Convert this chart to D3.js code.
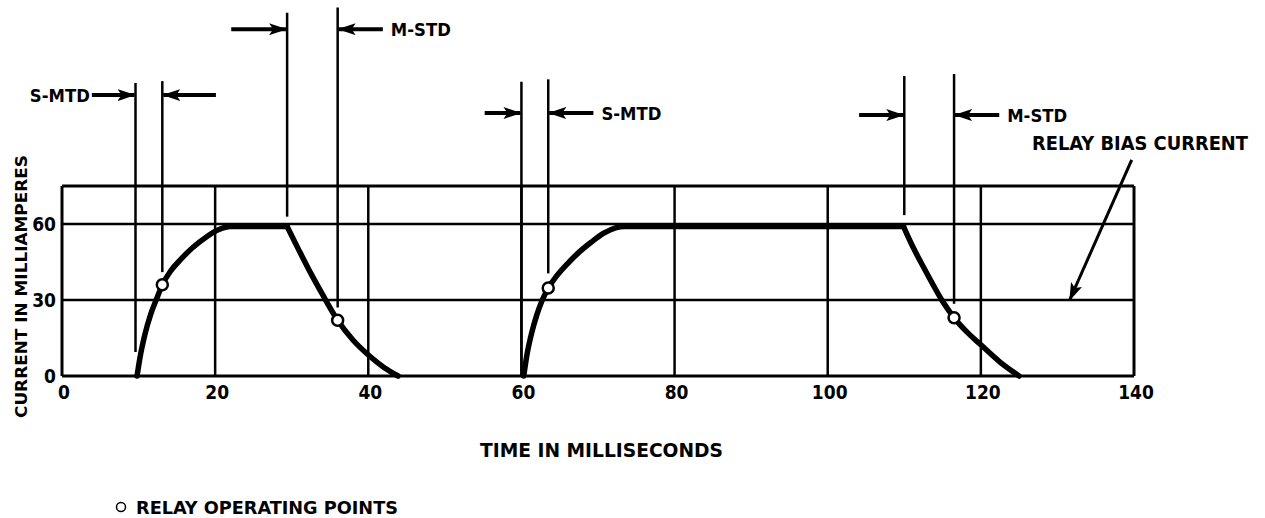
<!DOCTYPE html>
<meta charset="utf-8">
<style>
body { margin: 0; background: #fff; }
text { font-family: "DejaVu Sans Condensed", "DejaVu Sans", sans-serif; font-weight: bold; fill: #000; }
.grid { stroke: #000; stroke-width: 2.5; fill: none; }
.curve { stroke: #000; stroke-width: 5.5; fill: none; stroke-linecap: round; stroke-linejoin: round; }
.mark { stroke: #000; stroke-width: 2.5; }
.shaft { stroke: #000; stroke-width: 4; }
</style>
<body>
<script src="https://cdn.jsdelivr.net/npm/d3@7"></script>
<script>
// time (ms) and current (mA)
var xTicks = [0, 20, 40, 60, 80, 100, 120, 140],
    yTicks = [0, 30, 60];
var gridY = [0, 30, 60, 75];

var rise1 = [[9.8,0],[10.2,7.5],[10.8,16],[11.6,24.5],[12.4,30.8],[13.1,36],[14.2,41.5],[15.5,46],
             [17,50.5],[18.9,55],[20.5,57.8],[22,59],[29.4,59]];
var fall1 = [[29.4,59],[31,49.3],[32.5,40.5],[34,32.3],[36,22],[38,14.2],[40.2,7.8],[42,3.5],[43.9,0]];
var rise2 = [[60.3,0],[60.7,8],[61.3,16.5],[62,24],[62.7,29.8],[63.5,34.7],[64.6,39.5],[66,44.3],
             [67.5,48.8],[69.1,52.8],[70.7,56.3],[72.3,58.5],[73.5,59],[109.9,59]];
var fall2 = [[109.9,59],[111.2,50.5],[112.5,43],[113.8,35.8],[115,29.5],[116.5,23],[118.2,17.3],
             [120,12.3],[122.5,5.5],[125,0]];

var operatingPoints = [[13.1,36],[36,22],[63.5,34.7],[116.5,23]];

// delay markers: two vertical lines, arrows pointing in, a label
var markers = [
  {label: "S-MTD", side: "left",  t1: 9.6,  t2: 13.1,  top1: 115.7, top2: 116.4, bot1: 9.5,  bot2: 41,   ay: 110.9, from1: 3.9,   from2: 20.1},
  {label: "M-STD", side: "right", t1: 29.4, t2: 36.0,  top1: 143.4, top2: 145.5, bot1: 62.9, bot2: 27,   ay: 136.9, from1: 22.1,  from2: 41.9},
  {label: "S-MTD", side: "right", t1: 60,   t2: 63.5,  top1: 116.2, top2: 117.1, bot1: 0,    bot2: 40.5, ay: 103.8, from1: 55.2,  from2: 69.4},
  {label: "M-STD", side: "right", t1: 110,  t2: 116.5, top1: 118.4, top2: 119.2, bot1: 63.5, bot2: 28.5, ay: 103,   from1: 104.1, from2: 122.4}
];

var biasArrow = {from: [139.7, 85.3], to: [131.6, 30]};

var svg = d3.select("body").append("svg")
    .attr("width", 1265)
    .attr("height", 518);

var x = d3.scaleLinear().domain([0, 140]).range([62, 1134]),
    y = d3.scaleLinear().domain([0, 75]).range([376, 186]);

var defs = svg.append("defs");
defs.append("marker")
    .attr("id", "head")
    .attr("markerUnits", "userSpaceOnUse")
    .attr("viewBox", "0 0 18 12")
    .attr("refX", 17).attr("refY", 6)
    .attr("markerWidth", 18).attr("markerHeight", 12)
    .attr("orient", "auto")
  .append("path")
    .attr("d", "M0,0 L18,6 L0,12 L4,6 Z")
    .attr("fill", "#000");

// grid
svg.selectAll(".hgrid").data(gridY).enter().append("line")
    .attr("class", "grid")
    .attr("x1", x(0)).attr("x2", x(140))
    .attr("y1", function(d) { return y(d); })
    .attr("y2", function(d) { return y(d); })
    .style("stroke-width", function(d) { return d == 0 || d == 75 ? 3 : 2.5; });

svg.selectAll(".vgrid").data(xTicks).enter().append("line")
    .attr("class", "grid")
    .attr("x1", function(d) { return x(d); })
    .attr("x2", function(d) { return x(d); })
    .attr("y1", y(0)).attr("y2", y(75))
    .style("stroke-width", function(d) { return d == 0 || d == 140 ? 3 : 2.5; });

// tick labels
svg.selectAll(".xt").data(xTicks).enter().append("text")
    .attr("x", function(d) { return x(d) + 2; })
    .attr("y", 399)
    .attr("text-anchor", "middle")
    .style("font-size", "19px")
    .text(function(d) { return d; });

svg.selectAll(".yt").data(yTicks).enter().append("text")
    .attr("x", 56)
    .attr("y", function(d) { return y(d) + 7; })
    .attr("text-anchor", "end")
    .style("font-size", "19px")
    .text(function(d) { return d; });

// current pulses
var line = d3.line()
    .x(function(d) { return x(d[0]); })
    .y(function(d) { return y(d[1]); })
    .curve(d3.curveMonotoneX);

[rise1, fall1, rise2, fall2].forEach(function(s) {
  svg.append("path").attr("class", "curve").attr("d", line(s));
});

// delay markers
markers.forEach(function(m) {
  svg.append("line").attr("class", "mark")
      .attr("x1", x(m.t1)).attr("x2", x(m.t1))
      .attr("y1", y(m.top1)).attr("y2", y(m.bot1));
  svg.append("line").attr("class", "mark")
      .attr("x1", x(m.t2)).attr("x2", x(m.t2))
      .attr("y1", y(m.top2)).attr("y2", y(m.bot2));
  svg.append("line").attr("class", "shaft")
      .attr("x1", x(m.from1)).attr("x2", x(m.t1) - 1)
      .attr("y1", y(m.ay)).attr("y2", y(m.ay))
      .attr("marker-end", "url(#head)");
  svg.append("line").attr("class", "shaft")
      .attr("x1", x(m.from2)).attr("x2", x(m.t2) + 1)
      .attr("y1", y(m.ay)).attr("y2", y(m.ay))
      .attr("marker-end", "url(#head)");
  var left = m.side == "left";
  svg.append("text")
      .attr("x", left ? x(m.from1) - 2 : x(m.from2) + 8)
      .attr("y", y(m.ay) + 7)
      .attr("text-anchor", left ? "end" : "start")
      .attr("textLength", 60)
      .attr("lengthAdjust", "spacingAndGlyphs")
      .style("font-size", "18px")
      .text(m.label);
});

// operating points
svg.selectAll(".op").data(operatingPoints).enter().append("circle")
    .attr("cx", function(d) { return x(d[0]); })
    .attr("cy", function(d) { return y(d[1]); })
    .attr("r", 5.5)
    .attr("fill", "#fff")
    .attr("stroke", "#000")
    .attr("stroke-width", 2.5);

// relay bias current arrow
svg.append("line")
    .attr("x1", x(biasArrow.from[0])).attr("y1", y(biasArrow.from[1]))
    .attr("x2", x(biasArrow.to[0])).attr("y2", y(biasArrow.to[1]))
    .attr("stroke", "#000").attr("stroke-width", 3)
    .attr("marker-end", "url(#head)");

svg.append("text")
    .attr("x", 1032).attr("y", 149.5)
    .attr("textLength", 216).attr("lengthAdjust", "spacingAndGlyphs")
    .style("font-size", "19px")
    .text("RELAY BIAS CURRENT");

// axis titles
svg.append("text")
    .attr("x", 480).attr("y", 457)
    .attr("textLength", 243).attr("lengthAdjust", "spacingAndGlyphs")
    .style("font-size", "19px")
    .text("TIME IN MILLISECONDS");

svg.append("text")
    .attr("transform", "translate(27,286.5)rotate(-90)")
    .attr("text-anchor", "middle")
    .attr("textLength", 263).attr("lengthAdjust", "spacingAndGlyphs")
    .style("font-size", "16px")
    .text("CURRENT IN MILLIAMPERES");

// legend
svg.append("circle")
    .attr("cx", 121).attr("cy", 507).attr("r", 4.5)
    .attr("fill", "#fff").attr("stroke", "#000").attr("stroke-width", 1.5);

svg.append("text")
    .attr("x", 136).attr("y", 514)
    .attr("textLength", 262).attr("lengthAdjust", "spacingAndGlyphs")
    .style("font-size", "18px")
    .text("RELAY OPERATING POINTS");
</script>
</body>
